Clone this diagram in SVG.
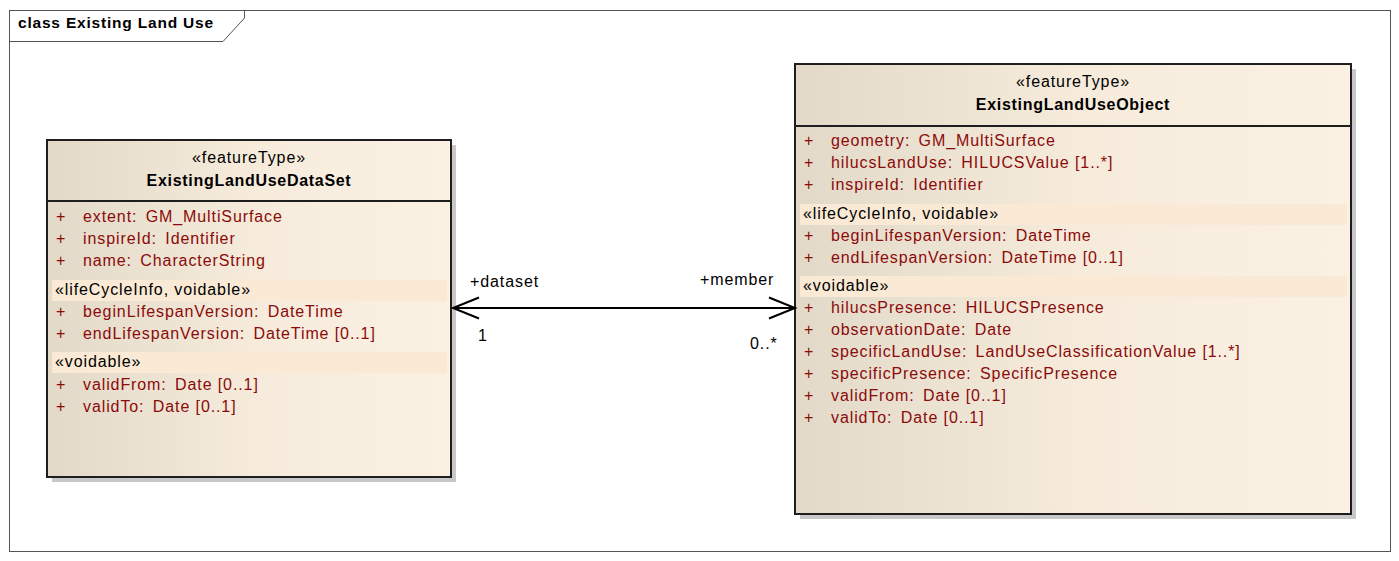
<svg xmlns="http://www.w3.org/2000/svg" width="1399" height="561" viewBox="0 0 1399 561">
<defs>
<linearGradient id="fill" x1="0" y1="0" x2="1" y2="0">
<stop offset="0" stop-color="#E2D9C9"/>
<stop offset="0.5" stop-color="#F6EBDB"/>
<stop offset="1" stop-color="#FBF1E3"/>
</linearGradient>
<style>
text{font-family:"Liberation Sans",Arial,sans-serif;font-size:16px;letter-spacing:0.9px;}
.box{fill:url(#fill);stroke:#1E1E1E;stroke-width:2;}
.shadow{fill:#C8C8C8;}
.sep{stroke:#1E1E1E;stroke-width:2;}
.band{fill:#FAEAD5;}
.st{fill:#000;text-anchor:middle;}
.nm{fill:#000;text-anchor:middle;font-weight:bold;letter-spacing:0.7px;}
.at{fill:#8B0A0A;}
.sec{fill:#000;}
.lbl{fill:#000;}
.conn{stroke:#000;stroke-width:2;fill:none;}
</style>
</defs>
<rect width="1399" height="561" fill="#FFFFFF"/>
<g id="frame">
<rect x="9.5" y="10.5" width="1381" height="541" fill="none" stroke="#555" stroke-width="1"/>
<path d="M9.5 41.5 H223 L244.5 18 V10.5" fill="none" stroke="#555" stroke-width="1"/>
<text x="18" y="28" style="font-weight:bold;font-size:15.5px;letter-spacing:0.8px" fill="#000">class Existing Land Use</text>
</g>
<g id="ExistingLandUseDataSet">
<rect class="shadow" x="52" y="145" width="404" height="337"/>
<rect class="box" x="47" y="140" width="404" height="337"/>
<line class="sep" x1="47" y1="201" x2="451" y2="201"/>
<text class="st" x="249" y="163">«featureType»</text>
<text class="nm" x="249" y="186">ExistingLandUseDataSet</text>
<text class="at" x="56" y="222">+</text><text class="at" x="83" y="222">extent: <tspan dx="3">GM_MultiSurface</tspan></text>
<text class="at" x="56" y="244">+</text><text class="at" x="83" y="244">inspireId: <tspan dx="3">Identifier</tspan></text>
<text class="at" x="56" y="266">+</text><text class="at" x="83" y="266">name: <tspan dx="3">CharacterString</tspan></text>
<rect class="band" x="52" y="280" width="395" height="21"/>
<text class="sec" x="55" y="295">«lifeCycleInfo, voidable»</text>
<text class="at" x="56" y="317">+</text><text class="at" x="83" y="317">beginLifespanVersion: <tspan dx="3">DateTime</tspan></text>
<text class="at" x="56" y="339">+</text><text class="at" x="83" y="339">endLifespanVersion: <tspan dx="3">DateTime [0..1]</tspan></text>
<rect class="band" x="52" y="352" width="395" height="21"/>
<text class="sec" x="55" y="367">«voidable»</text>
<text class="at" x="56" y="390">+</text><text class="at" x="83" y="390">validFrom: <tspan dx="3">Date [0..1]</tspan></text>
<text class="at" x="56" y="412">+</text><text class="at" x="83" y="412">validTo: <tspan dx="3">Date [0..1]</tspan></text>
</g>
<g id="ExistingLandUseObject">
<rect class="shadow" x="800" y="69" width="556" height="450"/>
<rect class="box" x="795" y="64" width="556" height="450"/>
<line class="sep" x1="795" y1="126" x2="1351" y2="126"/>
<text class="st" x="1073" y="87">«featureType»</text>
<text class="nm" x="1073" y="110">ExistingLandUseObject</text>
<text class="at" x="804" y="146">+</text><text class="at" x="831" y="146">geometry: <tspan dx="3">GM_MultiSurface</tspan></text>
<text class="at" x="804" y="168">+</text><text class="at" x="831" y="168">hilucsLandUse: <tspan dx="3">HILUCSValue [1..*]</tspan></text>
<text class="at" x="804" y="190">+</text><text class="at" x="831" y="190">inspireId: <tspan dx="3">Identifier</tspan></text>
<rect class="band" x="800" y="204" width="547" height="21"/>
<text class="sec" x="803" y="219">«lifeCycleInfo, voidable»</text>
<text class="at" x="804" y="241">+</text><text class="at" x="831" y="241">beginLifespanVersion: <tspan dx="3">DateTime</tspan></text>
<text class="at" x="804" y="263">+</text><text class="at" x="831" y="263">endLifespanVersion: <tspan dx="3">DateTime [0..1]</tspan></text>
<rect class="band" x="800" y="276" width="547" height="21"/>
<text class="sec" x="803" y="291">«voidable»</text>
<text class="at" x="804" y="313">+</text><text class="at" x="831" y="313">hilucsPresence: <tspan dx="3">HILUCSPresence</tspan></text>
<text class="at" x="804" y="335">+</text><text class="at" x="831" y="335">observationDate: <tspan dx="3">Date</tspan></text>
<text class="at" x="804" y="357">+</text><text class="at" x="831" y="357">specificLandUse: <tspan dx="3">LandUseClassificationValue [1..*]</tspan></text>
<text class="at" x="804" y="379">+</text><text class="at" x="831" y="379">specificPresence: <tspan dx="3">SpecificPresence</tspan></text>
<text class="at" x="804" y="401">+</text><text class="at" x="831" y="401">validFrom: <tspan dx="3">Date [0..1]</tspan></text>
<text class="at" x="804" y="423">+</text><text class="at" x="831" y="423">validTo: <tspan dx="3">Date [0..1]</tspan></text>
</g>
<g id="connectors">
<line class="conn" x1="453" y1="308" x2="795" y2="308"/>
<path class="conn" d="M479 297.5 L453 308 L479 318.5"/>
<path class="conn" d="M769 297.5 L795 308 L769 318.5"/>
<text class="lbl" x="470" y="287">+dataset</text>
<text class="lbl" x="700" y="285">+member</text>
<text class="lbl" x="478" y="341">1</text>
<text class="lbl" x="750" y="349">0..*</text>
</g>
</svg>
